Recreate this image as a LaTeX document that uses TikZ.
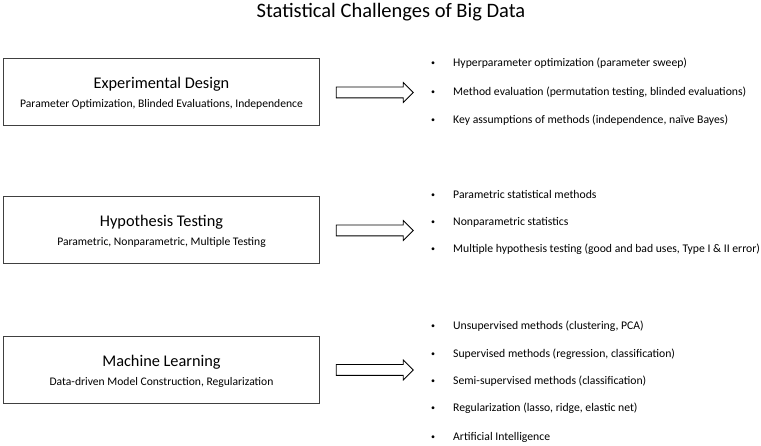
\documentclass[tikz,border=0pt]{standalone}
\usepackage{fontspec}
\setmainfont{Carlito}
\usetikzlibrary{shapes.arrows}
\definecolor{edge}{HTML}{404040}
\tikzset{
  box/.style={draw=edge, line width=1pt, minimum width=316pt, minimum height=67pt, inner sep=0pt},
  boxtitle/.style={font=\fontsize{16.3}{19}\selectfont, anchor=base, inner sep=0pt},
  boxsub/.style={font=\fontsize{11.6}{14}\selectfont, anchor=base, inner sep=0pt},
  bigarrow/.style={single arrow, draw=black, line width=0.8pt, minimum height=77pt, minimum width=19pt, single arrow head extend=4.5pt, single arrow tip angle=90, inner xsep=0pt, inner ysep=5pt, text height=0pt, text depth=0pt, text width=0pt},
  item/.style={font=\fontsize{11.7}{14}\selectfont, anchor=base west, inner sep=0pt},
  dot/.style={font=\fontsize{8}{10}\selectfont, anchor=base, inner sep=0pt},
}
\begin{document}
\begin{tikzpicture}[x=1pt,y=-1pt]
\useasboundingbox (0,0) rectangle (761,446);
\node[font=\fontsize{20.5}{24}\selectfont, anchor=base, inner sep=0pt] (title) at (391,18) {Statistical Challenges of Big Data};

% boxes
\node[box] (b1) at (161,92.5) {};
\node[boxtitle] (b1t) at (161.5,89) {Experimental Design};
\node[boxsub] (b1s) at (161.5,108) {Parameter Optimization, Blinded Evaluations, Independence};

\node[box] (b2) at (161,230.5) {};
\node[boxtitle] (b2t) at (161.5,227) {Hypothesis Testing};
\node[boxsub] (b2s) at (161.5,246) {Parametric, Nonparametric, Multiple Testing};

\node[box] (b3) at (161,370) {};
\node[boxtitle] (b3t) at (161.5,366.5) {Machine Learning};
\node[boxsub] (b3s) at (161.5,385.5) {Data-driven Model Construction, Regularization};

% arrows
\node[bigarrow] (a1) at (372,92.5) {};
\node[bigarrow] (a2) at (372,230.5) {};
\node[bigarrow] (a3) at (372,370) {};

% lists
\foreach \y/\t [count=\i] in {67/{Hyperparameter optimization (parameter sweep)},
  96/{Method evaluation (permutation testing, blinded evaluations)},
  124/{Key assumptions of methods (independence, naïve Bayes)},
  199/{Parametric statistical methods},
  226/{Nonparametric statistics},
  253/{Multiple hypothesis testing (good and bad uses, Type I \& II error)},
  330/{Unsupervised methods (clustering, PCA)},
  358/{Supervised methods (regression, classification)},
  385/{Semi-supervised methods (classification)},
  412/{Regularization (lasso, ridge, elastic net)},
  440/{Artificial Intelligence}}
{
  \node[dot] (d\i) at (433,\y-1) {•};
  \node[item] (t\i) at (453,\y) {\t};
}
\end{tikzpicture}
\end{document}
